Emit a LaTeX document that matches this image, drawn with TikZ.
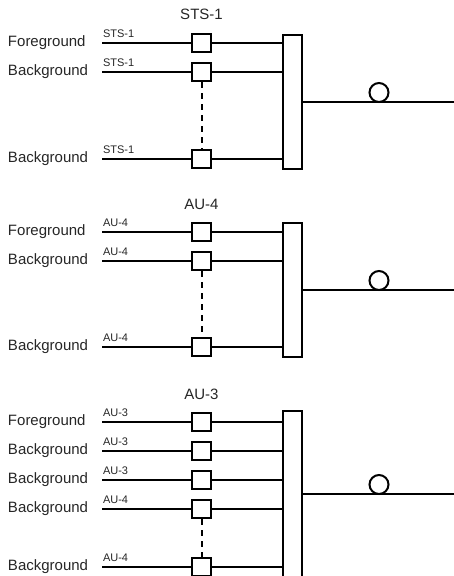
\documentclass[tikz,border=0pt]{standalone}
\usepackage{fontspec}
\setmainfont{Liberation Sans}
\begin{document}
\begin{tikzpicture}[x=1pt,y=-1pt,line width=2pt,
  biglabel/.style={anchor=west,inner sep=0pt,text=black!85,font=\fontsize{15}{18}\selectfont},
  smalllabel/.style={anchor=south west,inner sep=0pt,yshift=4pt,text=black!85,font=\fontsize{11}{13}\selectfont},
  title/.style={inner sep=0pt,text=black!85,font=\fontsize{15}{18}\selectfont},
  sqbox/.style={draw,minimum width=19pt,minimum height=18pt,inner sep=0pt,fill=white},
  barbox/.style={draw,minimum width=19pt,inner sep=0pt,fill=white},
  ring/.style={draw,circle,minimum size=19pt,inner sep=0pt},
  dashline/.style={dash pattern=on 6pt off 5pt}]
\useasboundingbox (0,0) rectangle (454,576);
% ---------------- Section 1 ----------------
\node[title] (t1) at (201.5,14) {STS-1};
\node[barbox,minimum height=134pt] (bar1) at (292.5,102) {};
\foreach \n/\y/\lab in {a/43/Foreground,b/72/Background,c/159/Background}{
  \coordinate (i1\n) at (102,\y);
  \node[biglabel] (l1\n) at (7,\y) {\lab};
  \node[smalllabel] (k1\n) at (i1\n) {STS-1};
  \node[sqbox] (s1\n) at (201.5,\y) {};
  \draw (i1\n) -- (s1\n.west);
  \draw (s1\n.east) -- (s1\n.east -| bar1.west);
}
\draw[dashline] (s1b.south) -- (s1c.north);
\coordinate (o1) at (454,102);
\draw (bar1.east) -- (o1);
\node[ring] (c1) at (379,92.5) {};
% ---------------- Section 2 ----------------
\node[title] (t2) at (201.5,204) {AU-4};
\node[barbox,minimum height=134pt] (bar2) at (292.5,290) {};
\foreach \n/\y/\lab in {a/232/Foreground,b/261/Background,c/347/Background}{
  \coordinate (i2\n) at (102,\y);
  \node[biglabel] (l2\n) at (7,\y) {\lab};
  \node[smalllabel] (k2\n) at (i2\n) {AU-4};
  \node[sqbox] (s2\n) at (201.5,\y) {};
  \draw (i2\n) -- (s2\n.west);
  \draw (s2\n.east) -- (s2\n.east -| bar2.west);
}
\draw[dashline] (s2b.south) -- (s2c.north);
\coordinate (o2) at (454,290);
\draw (bar2.east) -- (o2);
\node[ring] (c2) at (379,280.5) {};
% ---------------- Section 3 ----------------
\node[title] (t3) at (201.5,394) {AU-3};
\node[barbox,minimum height=166pt] (bar3) at (292.5,494) {};
\foreach \n/\y/\lab/\sl in {a/422/Foreground/AU-3,b/451/Background/AU-3,c/480/Background/AU-3,d/509/Background/AU-4,e/567/Background/AU-4}{
  \coordinate (i3\n) at (102,\y);
  \node[biglabel] (l3\n) at (7,\y) {\lab};
  \node[smalllabel] (k3\n) at (i3\n) {\sl};
  \node[sqbox] (s3\n) at (201.5,\y) {};
  \draw (i3\n) -- (s3\n.west);
  \draw (s3\n.east) -- (s3\n.east -| bar3.west);
}
\draw[dashline] (s3d.south) -- (s3e.north);
\coordinate (o3) at (454,494);
\draw (bar3.east) -- (o3);
\node[ring] (c3) at (379,484.5) {};
\end{tikzpicture}
\end{document}
